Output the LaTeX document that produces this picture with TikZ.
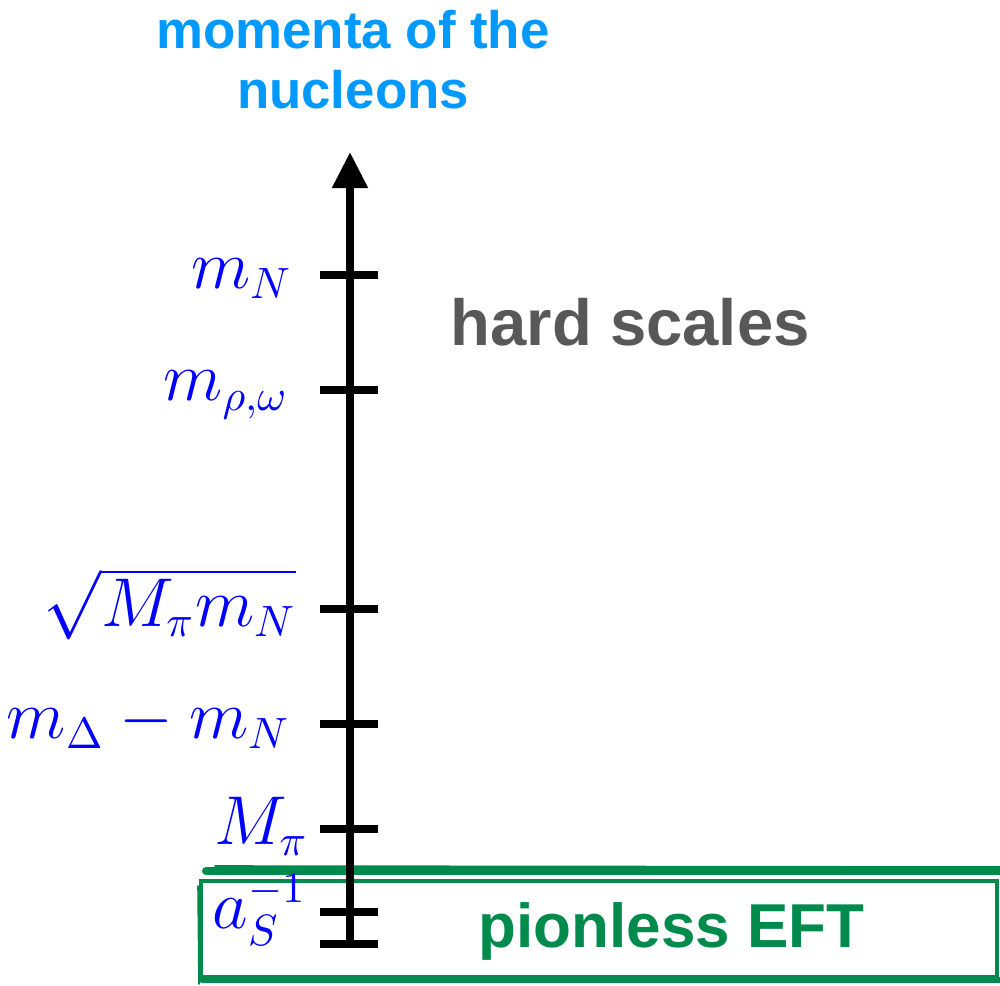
\documentclass[tikz,border=0pt]{standalone}
\usepackage{fontspec}
\setsansfont{Liberation Sans}
\usetikzlibrary{arrows.meta,positioning}
\definecolor{sky}{HTML}{0099FF}
\definecolor{slate}{HTML}{585858}
\definecolor{eftgreen}{HTML}{008A4C}

\begin{document}
\begin{tikzpicture}[x=0.25pt,y=-0.25pt,
  axisline/.style={line width=2pt,-{Triangle[width=8.5pt,length=9pt]}},
  tick/.style={line width=2pt},
  scalelbl/.style={anchor=base east,text=blue,inner sep=0pt,font=\fontsize{16}{19}\selectfont},
  heading/.style={font=\sffamily\bfseries\fontsize{13.2}{15}\selectfont,text=sky,align=center,inner sep=0pt},
  region/.style={font=\sffamily\bfseries\fontsize{15.8}{18}\selectfont,inner sep=0pt,anchor=base west},
  frame/.style={draw=eftgreen,line cap=round}]
\useasboundingbox (0,0) rectangle (1000,986);

% sketchy frame of the low-energy region
\draw[frame,line width=2pt] (206,871) -- (1000,871);
\draw[frame,line width=0.4pt] (215,866) -- (1000,867);
\draw[frame,line width=0.8pt] (201,881) rectangle (997,977);
\draw[frame,line width=0.4pt] (198,886) -- (199,984);
\draw[frame,line width=1.4pt] (202,980) -- (1000,980);

% momentum axis
\coordinate (bot) at (350,946);
\coordinate (top) at (350,152);
\draw[axisline] (bot) -- (top);
\foreach \yt in {275,390,609,724,829,912,944}
  \draw[tick] (320,\yt) -- (378,\yt);

% scales
\foreach \yb/\xr/\lbl [count=\i] in {288/293/{$m_N$},400/289/{$m_{\rho,\omega}$},
    626/297/{$\sqrt{M_\pi m_N}$},738/291/{$m_\Delta-m_N$},845/309/{$M_\pi$},928/307/{$a_S^{-1}$}}
  \node[scalelbl] (s\i) at (\xr,\yb) {\lbl};

\node[heading,anchor=north] (title) at (353,9) {momenta of the\\nucleons};
\node[region,text=slate,font=\sffamily\bfseries\fontsize{16.3}{18}\selectfont] (hard) at (450,345) {hard scales};
\node[region,text=eftgreen,font=\sffamily\bfseries\fontsize{15.5}{18}\selectfont] (eft) at (478,947) {pionless EFT};
\end{tikzpicture}
\end{document}
